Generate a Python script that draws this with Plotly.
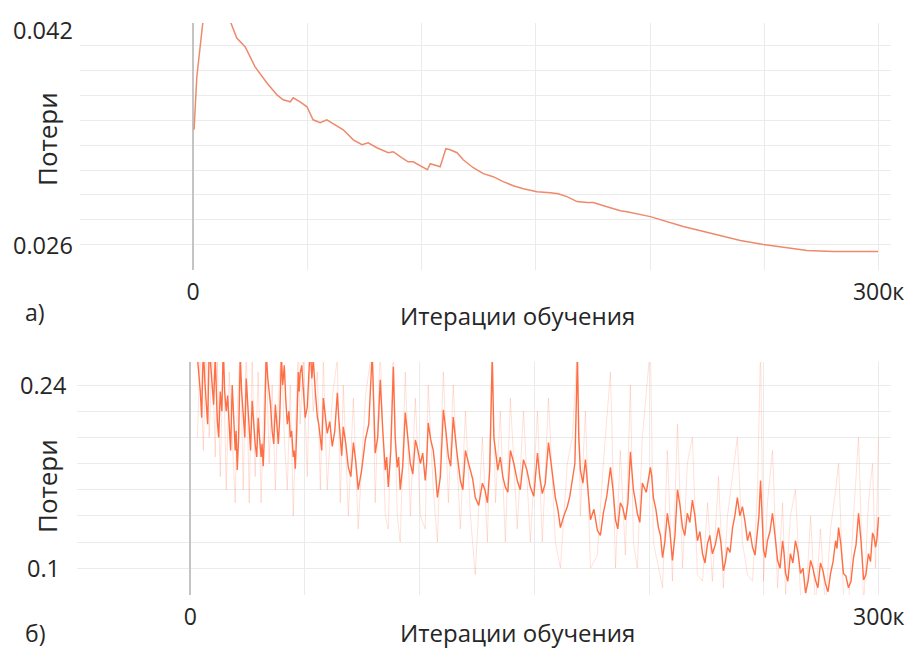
import plotly.graph_objects as go

# ---------- data ----------
# (a) smoothed training loss; iterations in thousands
iters_a = [0.4, 1.6, 4.3, 8.0, 12.0, 16.2, 19.1, 22.8, 27.1, 32.3, 36.7, 39.4, 42.5, 43.8, 46.8,
           49.8, 52.5, 55.6, 58.5, 61.3, 65.7, 70.1, 73.9, 76.6, 80.4, 85.4, 87.6, 90.6, 94.1,
           96.3, 100.7, 102.5, 103.8, 108.1, 109.5, 110.6, 112.5, 115.5, 118.2, 122.6, 127.0,
           131.3, 135.7, 140.1, 144.5, 150.5, 156.3, 159.8, 163.6, 168.0, 172.4, 175.1, 181.1,
           187.0, 189.9, 200.1, 214.5, 229.3, 239.5, 249.6, 258.3, 268.7, 280.2, 292.0, 299.8]
loss_a = [0.03525, 0.0395, 0.0440, 0.0490, 0.0470, 0.0440, 0.04264, 0.04192, 0.04031, 0.03902,
          0.03806, 0.03766, 0.03750, 0.03782, 0.03750, 0.03710, 0.03605, 0.03581, 0.03605,
          0.03573, 0.03525, 0.03444, 0.03404, 0.03420, 0.03380, 0.03340, 0.03348, 0.03308,
          0.03267, 0.03267, 0.03219, 0.03203, 0.03251, 0.03227, 0.03308, 0.03372, 0.03364,
          0.03340, 0.03283, 0.03219, 0.03171, 0.03147, 0.03107, 0.03074, 0.03050, 0.03026,
          0.03018, 0.03010, 0.02986, 0.02946, 0.02938, 0.02938, 0.02905, 0.02873, 0.02865,
          0.02825, 0.02745, 0.02680, 0.02632, 0.02600, 0.02576, 0.02552, 0.02544, 0.02544,
          0.02544]

# (b) noisy training loss (smoothed curve + raw values)
iters_b = [3.1, 4.4, 5.7, 7.0, 8.3, 9.6, 10.9, 11.8, 13.1, 14.4, 15.7, 17.0, 18.3, 19.6, 20.5,
           21.8, 23.1, 24.4, 25.7, 27.0, 28.3, 29.6, 30.9, 31.8, 33.1, 34.4, 35.7, 37.1, 38.4,
           39.7, 41.0, 42.3, 43.6, 44.9, 45.8, 47.1, 47.9, 49.3, 51.0, 52.3, 53.6, 55.4, 56.7,
           58.0, 59.7, 61.9, 64.1, 65.4, 66.7, 68.9, 71.1, 73.2, 76.3, 79.3, 80.6, 82.8, 85.0,
           86.3, 88.5, 90.2, 91.5, 93.7, 95.9, 98.1, 100.3, 102.4, 103.7, 105.9, 107.7, 110.3,
           112.5, 114.6, 117.7, 119.9, 122.1, 124.2, 127.3, 129.5, 131.6, 133.0, 135.1, 137.3,
           139.5, 142.5, 145.2, 148.2, 151.3, 153.4, 156.1, 159.1, 161.3, 164.3, 166.5, 168.7,
           170.0, 172.2, 174.4, 177.4, 180.0, 183.1, 185.3, 187.4, 189.6, 191.8, 193.1, 194.8,
           197.0, 200.5, 201.8, 204.0, 205.8, 207.9, 210.1, 212.3, 214.5, 216.6, 218.8, 221.0,
           223.2, 225.4, 227.5, 230.2, 232.3, 234.1, 236.3, 238.4, 240.6, 242.8, 245.0, 247.2,
           248.5, 249.8, 251.5, 253.7, 255.9, 258.1, 259.4, 261.5, 263.7, 265.9, 268.1, 270.3,
           272.4, 274.6, 276.8, 279.0, 281.2, 282.5, 284.6, 286.8, 289.0, 291.2, 293.4, 295.5,
           297.3, 298.6, 299.9]
loss_b = [0.262, 0.235, 0.27, 0.226, 0.27, 0.24, 0.262, 0.213, 0.235, 0.27, 0.22, 0.205, 0.24,
          0.19, 0.175, 0.262, 0.215, 0.245, 0.2, 0.228, 0.195, 0.215, 0.185, 0.178, 0.265, 0.235,
          0.205, 0.225, 0.195, 0.262, 0.255, 0.21, 0.2, 0.185, 0.176, 0.25, 0.249, 0.235, 0.223,
          0.27, 0.26, 0.2155, 0.198, 0.230, 0.203, 0.193, 0.234, 0.198, 0.208, 0.177, 0.196,
          0.160, 0.198, 0.265, 0.188, 0.244, 0.175, 0.162, 0.254, 0.177, 0.16, 0.219, 0.18,
          0.198, 0.18, 0.167, 0.211, 0.19, 0.154, 0.221, 0.185, 0.2155, 0.167, 0.19, 0.175,
          0.154, 0.165, 0.15, 0.262, 0.19, 0.185, 0.162, 0.19, 0.167, 0.183, 0.162, 0.188,
          0.157, 0.196, 0.154, 0.131, 0.147, 0.167, 0.262, 0.175, 0.183, 0.137, 0.129, 0.142,
          0.177, 0.137, 0.15, 0.137, 0.189, 0.16, 0.142, 0.165, 0.177, 0.154, 0.131, 0.108,
          0.142, 0.106, 0.16, 0.131, 0.142, 0.152, 0.121, 0.111, 0.119, 0.111, 0.131, 0.098,
          0.116, 0.131, 0.154, 0.147, 0.121, 0.116, 0.127, 0.167, 0.114, 0.121, 0.142, 0.106,
          0.121, 0.096, 0.111, 0.121, 0.096, 0.081, 0.106, 0.091, 0.104, 0.088, 0.096, 0.121,
          0.131, 0.096, 0.085, 0.108, 0.142, 0.091, 0.111, 0.127, 0.116, 0.139]
iters_b_mid = [3.8, 5.0, 6.3, 7.6, 9.0, 10.2, 11.3, 12.4, 13.8, 15.0, 16.3, 17.6, 19.0, 20.0,
               21.1, 22.4, 23.8, 25.0, 26.3, 27.6, 29.0, 30.2, 31.3, 32.4, 33.8, 35.0, 36.4,
               37.8, 39.0, 40.3, 41.6, 43.0, 44.2, 45.3, 46.4, 47.5, 48.6, 50.1, 51.6, 53.0,
               54.5, 56.0, 57.3, 58.8, 60.8, 63.0, 64.7, 66.0, 67.8, 70.0, 72.1, 74.7, 77.8,
               80.0, 81.7, 83.9, 85.6, 87.4, 89.3, 90.8, 92.6, 94.8, 97.0, 99.2, 101.3, 103.0,
               104.8, 106.8, 109.0, 111.4, 113.5, 116.1, 118.8, 121.0, 123.1, 125.7, 128.4,
               130.5, 132.3, 134.0, 136.2, 138.4, 141.0, 143.8, 146.7, 149.7, 152.3, 154.7,
               157.6, 160.2, 162.8, 165.4, 167.6, 169.3, 171.1, 173.3, 175.9, 178.7, 181.5,
               184.2, 186.3, 188.5, 190.7, 192.4, 193.9, 195.9, 198.7, 201.1, 202.9, 204.9,
               206.8, 209.0, 211.2, 213.4, 215.5, 217.7, 219.9, 222.1, 224.3, 226.4, 228.8,
               231.2, 233.2, 235.2, 237.3, 239.5, 241.7, 243.9, 246.1, 247.8, 249.1, 250.6,
               252.6, 254.8, 257.0, 258.7, 260.4, 262.6, 264.8, 267.0, 269.2, 271.3, 273.5,
               275.7, 277.9, 280.1, 281.8, 283.5, 285.7, 287.9, 290.1, 292.3, 294.4, 296.4,
               297.9, 299.2]
loss_b_mid = [0.25, 0.215, 0.245, 0.21, 0.255, 0.225, 0.24, 0.2, 0.22, 0.235, 0.232, 0.19,
              0.215, 0.205, 0.2, 0.235, 0.2, 0.225, 0.19, 0.21, 0.185, 0.2, 0.195, 0.205,
              0.245, 0.225, 0.195, 0.21, 0.215, 0.24, 0.23, 0.22, 0.205, 0.19, 0.205, 0.235,
              0.255, 0.215, 0.24, 0.245, 0.235, 0.21, 0.19, 0.215, 0.212, 0.205, 0.215, 0.186,
              0.195, 0.17, 0.182, 0.175, 0.21, 0.22, 0.2, 0.205, 0.185, 0.19, 0.2, 0.185,
              0.178, 0.2, 0.172, 0.19, 0.188, 0.18, 0.198, 0.175, 0.17, 0.205, 0.178, 0.19,
              0.16, 0.182, 0.168, 0.148, 0.16, 0.175, 0.2, 0.175, 0.17, 0.158, 0.18, 0.16,
              0.175, 0.155, 0.17, 0.165, 0.175, 0.145, 0.14, 0.155, 0.18, 0.2, 0.165, 0.16,
              0.145, 0.125, 0.155, 0.16, 0.13, 0.146, 0.15, 0.175, 0.152, 0.135, 0.158, 0.17,
              0.145, 0.125, 0.12, 0.128, 0.125, 0.148, 0.125, 0.135, 0.14, 0.128, 0.104, 0.125,
              0.118, 0.12, 0.105, 0.112, 0.14, 0.14, 0.136, 0.128, 0.11, 0.14, 0.135, 0.108,
              0.128, 0.125, 0.1, 0.112, 0.09, 0.104, 0.112, 0.1, 0.09, 0.1, 0.085, 0.098,
              0.082, 0.105, 0.115, 0.118, 0.094, 0.09, 0.118, 0.12, 0.095, 0.105, 0.124, 0.122]
raw_b = [0.20, 0.27, 0.19, 0.27, 0.20, 0.27, 0.185, 0.26, 0.17, 0.27, 0.16, 0.25, 0.20, 0.15,
         0.22, 0.27, 0.16, 0.27, 0.15, 0.26, 0.17, 0.25, 0.15, 0.21, 0.27, 0.18, 0.24, 0.16,
         0.23, 0.27, 0.20, 0.16, 0.24, 0.14, 0.20, 0.27, 0.21, 0.26, 0.17, 0.27, 0.22, 0.25,
         0.16, 0.26, 0.16, 0.23, 0.26, 0.15, 0.24, 0.14, 0.23, 0.13, 0.23, 0.27, 0.15, 0.27,
         0.14, 0.13, 0.27, 0.14, 0.12, 0.25, 0.14, 0.23, 0.14, 0.13, 0.24, 0.16, 0.12, 0.25,
         0.15, 0.24, 0.13, 0.22, 0.14, 0.095, 0.20, 0.12, 0.27, 0.15, 0.22, 0.12, 0.23, 0.13,
         0.22, 0.12, 0.22, 0.12, 0.23, 0.12, 0.10, 0.18, 0.20, 0.27, 0.14, 0.22, 0.10, 0.11,
         0.18, 0.25, 0.10, 0.19, 0.11, 0.24, 0.12, 0.10, 0.20, 0.27, 0.12, 0.10, 0.085, 0.19,
         0.09, 0.21, 0.10, 0.18, 0.20, 0.095, 0.09, 0.15, 0.09, 0.17, 0.085, 0.14, 0.17, 0.20,
         0.12, 0.095, 0.09, 0.16, 0.27, 0.09, 0.15, 0.19, 0.085, 0.15, 0.08, 0.14, 0.16, 0.08,
         0.07, 0.14, 0.07, 0.13, 0.07, 0.13, 0.16, 0.18, 0.08, 0.07, 0.14, 0.20, 0.07, 0.15,
         0.18, 0.10, 0.20]

x_grid = [0, 50, 100, 150, 200, 250, 300]
x_text = ["0", "", "", "", "", "", "300к"]
y_grid_a = [0.024, 0.026, 0.028, 0.030, 0.032, 0.034, 0.036, 0.038, 0.040, 0.042]
y_labels_a = [(0.026, "0.026", 0), (0.042, "0.042", 16)]
y_grid_b = [0.08, 0.10, 0.12, 0.14, 0.16, 0.18, 0.20, 0.22, 0.24]
y_labels_b = [(0.10, "0.1", 0), (0.24, "0.24", 0)]

axis_title = "Итерации обучения"
y_title = "Потери"

# smoothed (b) curve: main points merged with in-between points
pairs_b = sorted(zip(iters_b + iters_b_mid, loss_b + loss_b_mid))
smooth_x = [p[0] for p in pairs_b]
smooth_y = [p[1] for p in pairs_b]

# ---------- figure ----------
W, H = 919, 648
SX = 904.3   # effective horizontal extent observed in the rendered page
FONT = "Open Sans"
TXT = "#262626"
GRID = "#ebebeb"

def fx(px):
    return px / SX

fig = go.Figure()
fig.add_trace(go.Scatter(x=iters_a, y=loss_a, mode="lines", xaxis="x", yaxis="y",
                         line=dict(color="#ee8a6c", width=1.5), showlegend=False))
fig.add_trace(go.Scatter(x=iters_b, y=raw_b, mode="lines", xaxis="x2", yaxis="y2",
                         line=dict(color="rgba(255,120,80,0.22)", width=1), showlegend=False))
fig.add_trace(go.Scatter(x=smooth_x, y=smooth_y, mode="lines", xaxis="x2", yaxis="y2",
                         line=dict(color="#ff6f45", width=1.4), showlegend=False))

def xax(domain, rng, anchor):
    return dict(domain=domain, range=rng, anchor=anchor, tickmode="array",
                tickvals=x_grid, ticktext=x_text, showgrid=True, gridcolor=GRID,
                gridwidth=1, zeroline=True, zerolinecolor="#c4c4c4", zerolinewidth=2,
                showline=False, ticks="", ticklabelstandoff=6,
                tickfont=dict(family=FONT, size=23, color=TXT))

def yax(domain, rng, anchor, grid):
    return dict(domain=domain, range=rng, anchor=anchor, tickmode="array",
                tickvals=grid, showticklabels=False, showgrid=True, gridcolor=GRID,
                gridwidth=1, zeroline=False, showline=False, ticks="")

fig.update_layout(
    width=W, height=H, autosize=False, margin=dict(l=0, r=0, t=0, b=0),
    paper_bgcolor="white", plot_bgcolor="white",
    xaxis=xax([fx(80), min(1.0, fx(890))], [-49.5, 305.3], "y"),
    yaxis=yax([1 - 270 / H, 1 - 23 / H], [0.02395, 0.04385], "x", y_grid_a),
    xaxis2=xax([fx(77), min(1.0, fx(890))], [-49.3, 305.2], "y2"),
    yaxis2=yax([1 - 595 / H, 1 - 362 / H], [0.0795, 0.2576], "x2", y_grid_b),
)

ann = []
for v, t, sh in y_labels_a:
    ann.append(dict(x=fx(43), xref="paper", y=v, yref="y", text=t, showarrow=False,
                    xanchor="center", yanchor="middle", yshift=sh,
                    font=dict(family=FONT, size=23.5, color=TXT)))
for v, t, sh in y_labels_b:
    ann.append(dict(x=fx(43), xref="paper", y=v, yref="y2", text=t, showarrow=False,
                    xanchor="center", yanchor="middle", yshift=sh,
                    font=dict(family=FONT, size=23.5, color=TXT)))
for yc in (316, 632):
    ann.append(dict(x=fx(517), xref="paper", y=1 - yc / H, yref="paper", text=axis_title,
                    showarrow=False, xanchor="center", yanchor="middle",
                    font=dict(family=FONT, size=24, color=TXT)))
for yc in (139, 486):
    ann.append(dict(x=fx(47), xref="paper", y=1 - yc / H, yref="paper", text=y_title,
                    showarrow=False, xanchor="center", yanchor="middle", textangle=-90,
                    font=dict(family=FONT, size=26, color=TXT)))
for yc, t in ((312, "а)"), (633, "б)")):
    ann.append(dict(x=fx(35), xref="paper", y=1 - yc / H, yref="paper", text=t,
                    showarrow=False, xanchor="center", yanchor="middle",
                    font=dict(family=FONT, size=23, color=TXT)))
fig.update_layout(annotations=ann)

fig.write_html("out.html", config={"responsive": False})
